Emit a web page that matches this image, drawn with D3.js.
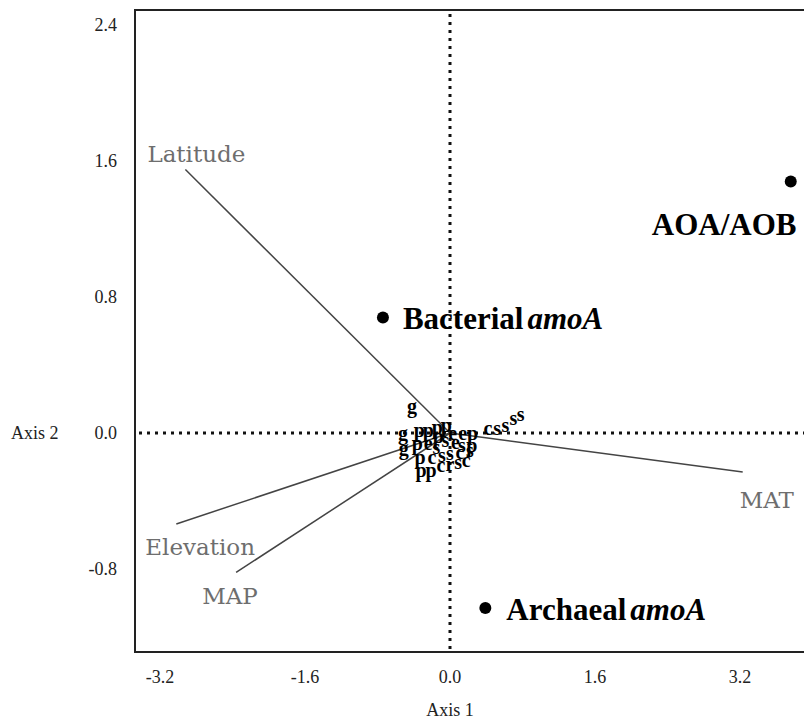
<!DOCTYPE html>
<html>
<head>
<meta charset="utf-8">
<script src="https://cdn.jsdelivr.net/npm/d3@7"></script>
<style>
  body { margin: 0; background: #fff; }
  svg { display: block; font-family: "Liberation Serif", "Times New Roman", serif; }
</style>
</head>
<body>
<div id="chart"></div>
<script>
// axis ticks
const xTicks = [-3.2, -1.6, 0.0, 1.6, 3.2];
const yTicks = [-0.8, 0.0, 0.8, 1.6, 2.4];

// site scores (letter = site code)
const siteCodes = ['g','g','p','p','p','p','e','e','p','c','s','s','s','s',
                   'p','s','e','s','p','g','p','e','s','p','c','s','s','c','s',
                   'p','p','c','r','s','c'];
const siteX = [-0.42,-0.52,-0.34,-0.24,-0.14,-0.04,0.03,0.14,0.25,0.42,0.52,0.61,0.70,0.78,
               -0.13,-0.05,0.06,0.13,0.24,-0.51,-0.36,-0.24,-0.15,-0.33,-0.20,-0.09,0.0,0.11,0.22,
               -0.32,-0.21,-0.10,0.0,0.09,0.18];
const siteY = [0.16,0.0,0.02,0.02,0.035,0.05,0.0,0.0,0.0,0.03,0.03,0.05,0.09,0.11,
               -0.02,-0.04,-0.05,-0.07,-0.07,-0.09,-0.06,-0.06,-0.08,-0.14,-0.14,-0.13,-0.12,-0.11,-0.10,
               -0.22,-0.22,-0.19,-0.18,-0.17,-0.16];

// environmental vectors
const vecNames = ['Latitude', 'MAT', 'Elevation', 'MAP'];
const vecX = [-2.92, 3.23, -3.02, -2.36];
const vecY = [1.55, -0.23, -0.535, -0.82];

// response variables
const respNames = ['AOA/AOB', 'Bacterial', 'Archaeal'];
const respItalic = ['', 'amoA', 'amoA'];
const respX = [3.76, -0.74, 0.39];
const respY = [1.48, 0.68, -1.03];

const W = 804, H = 721;
const svg = d3.select('#chart').append('svg')
    .attr('width', W).attr('height', H);

const x = d3.scaleLinear().domain([-3.2, 3.2]).range([160, 740]);
const y = d3.scaleLinear().domain([-0.8, 2.4]).range([569, 25]);

const frame = { left: 135, top: 10, right: 818, bottom: 652 };

// frame
svg.append('rect')
    .attr('x', frame.left).attr('y', frame.top)
    .attr('width', frame.right - frame.left).attr('height', frame.bottom - frame.top)
    .attr('fill', 'none').attr('stroke', '#222').attr('stroke-width', 2);

// dotted zero lines
svg.append('line')
    .attr('x1', frame.left + 4).attr('x2', frame.right)
    .attr('y1', y(0)).attr('y2', y(0))
    .attr('stroke', '#111').attr('stroke-width', 3).attr('stroke-dasharray', '3,5');
svg.append('line')
    .attr('x1', x(0)).attr('x2', x(0))
    .attr('y1', frame.top + 4).attr('y2', frame.bottom)
    .attr('stroke', '#111').attr('stroke-width', 3).attr('stroke-dasharray', '3,5');

// tick labels
svg.append('g').selectAll('text')
    .data(xTicks).join('text')
    .attr('x', d => x(d)).attr('y', 683)
    .attr('text-anchor', 'middle')
    .attr('font-size', 18).attr('fill', '#222')
    .text(d => d.toFixed(1));

svg.append('g').selectAll('text')
    .data(yTicks).join('text')
    .attr('x', 117).attr('y', d => y(d) + 6)
    .attr('text-anchor', 'end')
    .attr('font-size', 18).attr('fill', '#222')
    .text(d => d.toFixed(1));

svg.append('text')
    .attr('x', x(0)).attr('y', 716)
    .attr('text-anchor', 'middle').attr('font-size', 18).attr('fill', '#222')
    .text('Axis 1');
svg.append('text')
    .attr('x', 11).attr('y', y(0) + 6)
    .attr('font-size', 18).attr('fill', '#222')
    .text('Axis 2');

// vectors
const vectors = vecNames.map((name, i) => ({ name, vx: vecX[i], vy: vecY[i] }));
svg.append('g').selectAll('line')
    .data(vectors).join('line')
    .attr('x1', x(0)).attr('y1', y(0))
    .attr('x2', d => x(d.vx)).attr('y2', d => y(d.vy))
    .attr('stroke', '#444').attr('stroke-width', 1.5);

const labelOffset = {
    'Latitude': [-38, -8],
    'MAT': [-3, 36],
    'Elevation': [-31, 31],
    'MAP': [-34, 32]
};
svg.append('g').selectAll('text')
    .data(vectors).join('text')
    .attr('x', d => x(d.vx) + labelOffset[d.name][0])
    .attr('y', d => y(d.vy) + labelOffset[d.name][1])
    .attr('font-family', 'DejaVu Serif, serif')
    .attr('font-size', 23).attr('fill', '#6e6e6e')
    .text(d => d.name);

// site letters
const sites = siteCodes.map((c, i) => ({ c, sx: siteX[i], sy: siteY[i] }));
svg.append('g').selectAll('text')
    .data(sites).join('text')
    .attr('x', d => x(d.sx)).attr('y', d => y(d.sy))
    .attr('text-anchor', 'middle').attr('dominant-baseline', 'central')
    .attr('font-size', 20).attr('font-weight', 'bold').attr('fill', '#000')
    .text(d => d.c);

// response points
const resp = respNames.map((name, i) => ({ name, it: respItalic[i], rx: respX[i], ry: respY[i] }));
svg.append('g').selectAll('circle')
    .data(resp).join('circle')
    .attr('cx', d => x(d.rx)).attr('cy', d => y(d.ry))
    .attr('r', 6).attr('fill', '#000');

const respOffset = {
    'AOA/AOB': [-139, 54],
    'Bacterial': [20, 12],
    'Archaeal': [21, 12]
};
const rl = svg.append('g').selectAll('text')
    .data(resp).join('text')
    .attr('x', d => x(d.rx) + respOffset[d.name][0])
    .attr('y', d => y(d.ry) + respOffset[d.name][1])
    .attr('font-size', 31).attr('font-weight', 'bold').attr('fill', '#000');
rl.append('tspan').text(d => d.name);
rl.append('tspan').attr('font-style', 'italic').attr('dx', d => d.it ? 4 : 0).text(d => d.it);
</script>
</body>
</html>
